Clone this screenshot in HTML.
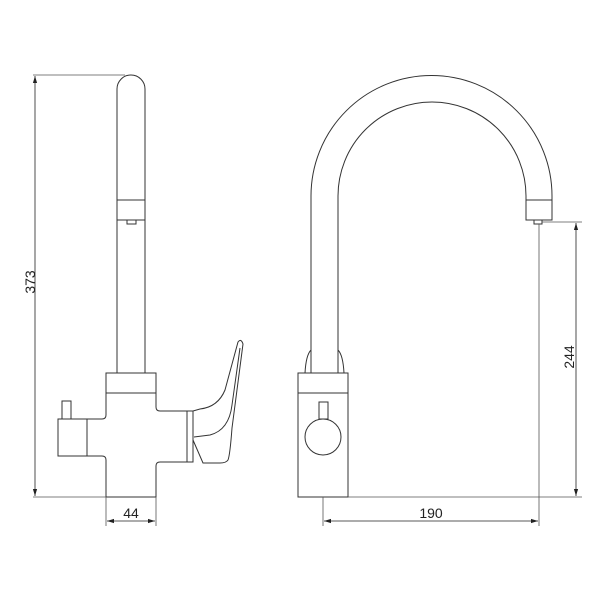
<!DOCTYPE html>
<html><head><style>body{margin:0;background:#fff}svg{display:block}</style></head><body>
<svg width="600" height="600" viewBox="0 0 600 600" xmlns="http://www.w3.org/2000/svg">
<defs>
<marker id="a" viewBox="0 0 10 10" refX="10" refY="5" markerWidth="9" markerHeight="9" orient="auto-start-reverse"><path d="M0,2 L10,5 L0,8 z" fill="#222"/></marker>
</defs>
<g fill="none" stroke="#333" stroke-width="1">
<path d="M117,373 V89 A14,14 0 0 1 145,89 V373"/>
<line x1="117" y1="200" x2="145" y2="200"/>
<line x1="117" y1="220" x2="145" y2="220"/>
<rect x="127" y="220" width="9" height="4"/>
<rect x="106" y="373" width="50" height="20"/>
<path d="M106,393 V415 Q106,419 102,419 H58 V456 H102 Q106,456 106,460 V497 H156 V466 Q156,462 160,462 H187 V411 H160 Q156,411 156,407 V393"/>
<line x1="87" y1="419" x2="87" y2="456"/>
<rect x="62" y="401" width="9" height="18"/>
<rect x="187" y="411" width="6" height="51"/>
<path d="M193,411 L200,409 Q218,407 225,390 L238,342 Q241,338 243,344 L232,428 Q230,455 228,460 Q226,463 220,463 L203,463 L193,440"/>
<path d="M194,437 L210,435 Q229,430 232,405 L240,348"/>
<path d="M311,352 V196 A120.5,120.5 0 0 1 552,196 V220 H526 V196 A94,94 0 0 0 338,196 V352"/>
<line x1="526" y1="200" x2="552" y2="200"/>
<rect x="534" y="220" width="8" height="4"/>
<path d="M311,350 Q306,355 305,373 M311,350 L311,373"/>
<path d="M338,350 Q343,355 344,373 M338,350 L338,373"/>
<rect x="298" y="373" width="50" height="124"/>
<line x1="298" y1="393" x2="348" y2="393"/>
<rect x="319" y="402" width="9" height="17"/>
<circle cx="323" cy="437" r="18"/>
</g>
<g stroke="#555" stroke-width="0.8" fill="none">
<line x1="33" y1="75" x2="125" y2="75"/>
<line x1="33" y1="497" x2="106" y2="497"/>
<line x1="106" y1="497" x2="106" y2="526"/>
<line x1="156" y1="497" x2="156" y2="526"/>
<line x1="542" y1="222" x2="582" y2="222"/>
<line x1="348" y1="497" x2="582" y2="497"/>
<line x1="323" y1="497" x2="323" y2="526"/>
<line x1="539" y1="224" x2="539" y2="526"/>
</g>
<g stroke="#222" stroke-width="0.8">
<line x1="35" y1="76" x2="35" y2="496" marker-start="url(#a)" marker-end="url(#a)"/>
<line x1="107" y1="521" x2="155" y2="521" marker-start="url(#a)" marker-end="url(#a)"/>
<line x1="576" y1="223" x2="576" y2="496" marker-start="url(#a)" marker-end="url(#a)"/>
<line x1="324" y1="521" x2="538" y2="521" marker-start="url(#a)" marker-end="url(#a)"/>
</g>
<g font-family="Liberation Sans, sans-serif" font-size="14" fill="#222" text-anchor="middle">
<text x="131" y="518">44</text>
<text x="431" y="518">190</text>
<text transform="translate(35,282) rotate(-90)">373</text>
<text transform="translate(574,357) rotate(-90)">244</text>
</g>
</svg>
</body></html>
